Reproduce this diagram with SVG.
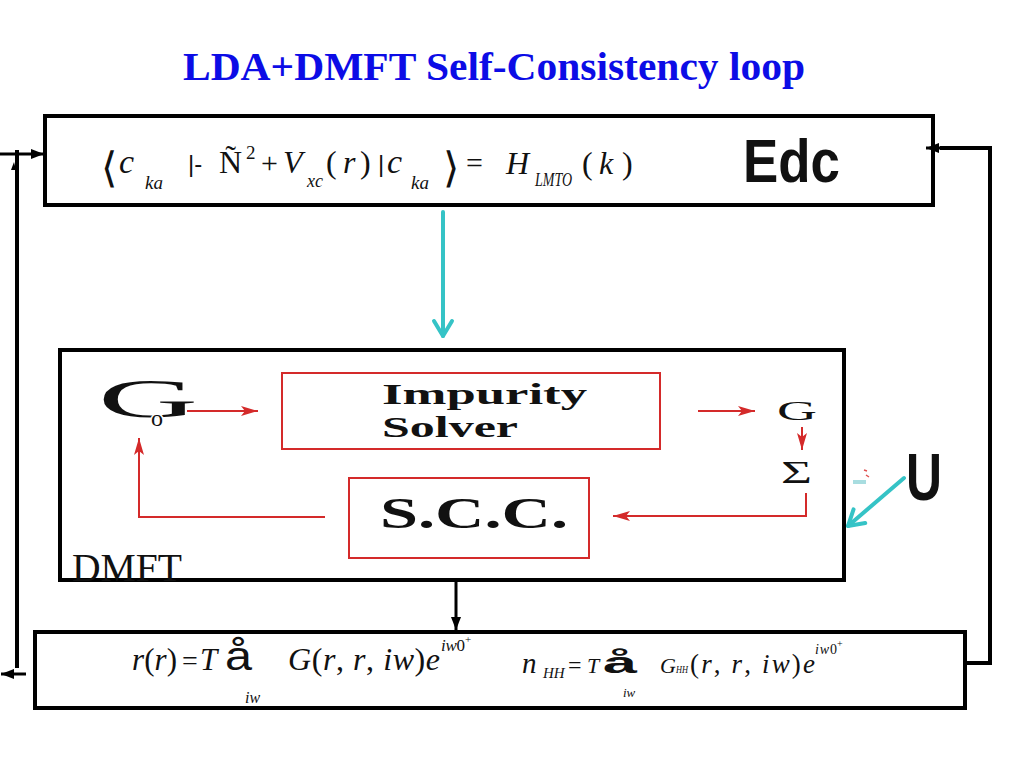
<svg xmlns="http://www.w3.org/2000/svg" width="1024" height="768" viewBox="0 0 1024 768">
<style>
.box{fill:none;stroke:#000;stroke-width:4}
.rbox{fill:none;stroke:#d42a2a;stroke-width:2}
.ser{font-family:"Liberation Serif","Times New Roman",serif;fill:#111}
.it{font-style:italic}
.sans{font-family:"Liberation Sans",Arial,sans-serif;fill:#111}
.red{fill:none;stroke:#d42a2a;stroke-width:2}
.blk{fill:none;stroke:#000;stroke-width:4}
.cyan{fill:none;stroke:#35c3c6;stroke-width:4;stroke-linecap:round}
</style>
<defs>
<marker id="ra" markerUnits="userSpaceOnUse" markerWidth="18" markerHeight="12" refX="17" refY="5" orient="auto">
<path d="M0,0 L17,5 L0,10 L4,5 z" fill="#d42a2a"/>
</marker>
<marker id="ba" markerUnits="userSpaceOnUse" markerWidth="14" markerHeight="12" refX="13" refY="5" orient="auto">
<path d="M0,0 L13,5 L0,10 z" fill="#000"/>
</marker>
<marker id="ca" markerUnits="userSpaceOnUse" markerWidth="22" markerHeight="24" refX="17" refY="10" orient="auto" overflow="visible">
<path d="M2,1 L17,10 L2,19" fill="none" stroke="#35c3c6" stroke-width="4" stroke-linecap="round" stroke-linejoin="round"/>
</marker>
</defs>
<rect width="1024" height="768" fill="#fff"/>

<text id="title" x="183" y="80" font-family="Liberation Serif,Times New Roman,serif" font-weight="bold" font-size="40" fill="#0c0ce6" textLength="622" lengthAdjust="spacingAndGlyphs">LDA+DMFT Self-Consistency loop</text>

<g id="lda-box">
<rect class="box" x="45" y="116" width="888" height="89"/>
<text class="ser" x="101" y="182" font-family="DejaVu Serif,serif" font-size="42">⟨</text>
<text class="ser it" x="119" y="173" font-size="34">c</text>
<text class="ser it" x="145" y="189" font-size="19">ka</text>
<text class="sans" x="188" y="172" font-size="24">|-</text>
<text class="ser" x="219" y="173" font-size="32">Ñ</text>
<text class="ser" x="246" y="159" font-size="19">2</text>
<text class="ser" x="261" y="173" font-size="30">+</text>
<text class="ser it" x="283" y="173" font-size="32">V</text>
<text class="ser it" x="307" y="187" font-size="18">xc</text>
<text class="ser" x="326" y="173" font-size="32">(<tspan class="it" x="343">r</tspan><tspan x="360">)</tspan></text>
<text class="sans" x="378" y="172" font-size="24">|</text>
<text class="ser it" x="387" y="173" font-size="34">c</text>
<text class="ser it" x="411" y="189" font-size="19">ka</text>
<text class="ser" x="443" y="182" font-family="DejaVu Serif,serif" font-size="42">⟩</text>
<text class="ser" x="466" y="173" font-size="30">=</text>
<text class="ser it" x="506" y="174" font-size="32">H</text>
<text class="ser it" x="535" y="186" font-size="18" textLength="37" lengthAdjust="spacingAndGlyphs">LMTO</text>
<text class="ser" x="582" y="174" font-size="32">(<tspan class="it" x="599">k</tspan><tspan x="622">)</tspan></text>
<text class="sans" x="743" y="182" font-size="62" font-weight="bold" textLength="97" lengthAdjust="spacingAndGlyphs">Edc</text>
</g>

<g id="dmft-box">
<rect class="box" x="60" y="350" width="784" height="230"/>
<text class="ser" x="72" y="581" font-size="39" textLength="110" lengthAdjust="spacingAndGlyphs">DMFT</text>
</g>

<g id="g0">
<text class="ser" x="98" y="417" font-size="54" textLength="100" lengthAdjust="spacingAndGlyphs">G</text>
<text class="ser" x="151" y="426" font-size="24" stroke="#fff" stroke-width="3" paint-order="stroke">o</text>
</g>

<g id="impurity-solver">
<rect class="rbox" x="282" y="373" width="378" height="76"/>
<text class="ser" x="382" y="404" font-size="30" font-weight="bold" textLength="205" lengthAdjust="spacingAndGlyphs">Impurity</text>
<text class="ser" x="382" y="437" font-size="30" font-weight="bold" textLength="136" lengthAdjust="spacingAndGlyphs">Solver</text>
</g>

<g id="scc">
<rect class="rbox" x="349" y="478" width="240" height="80"/>
<text class="ser" x="380" y="528" font-size="44" font-weight="bold" textLength="188" lengthAdjust="spacingAndGlyphs">S.C.C.</text>
</g>

<g id="g">
<text class="ser" x="777" y="420" font-size="28" textLength="40" lengthAdjust="spacingAndGlyphs">G</text>
</g>

<g id="sigma">
<text class="ser" x="781" y="483" font-size="32" textLength="31" lengthAdjust="spacingAndGlyphs">Σ</text>
</g>

<g id="u">
<text class="sans" x="906" y="500" font-size="66" font-weight="bold" textLength="36" lengthAdjust="spacingAndGlyphs">U</text>
</g>

<g id="density-box">
<rect class="box" x="35" y="632" width="930" height="76"/>
<text class="ser" x="132" y="670" font-size="31" textLength="45" lengthAdjust="spacing"><tspan class="it">r</tspan>(<tspan class="it">r</tspan>)</text>
<text class="ser" x="182" y="670" font-size="28">=</text>
<text class="ser it" x="200" y="670" font-size="31">T</text>
<text class="sans" x="225" y="670" font-size="40" textLength="27" lengthAdjust="spacingAndGlyphs">å</text>
<text class="ser it" x="245" y="703" font-size="16">iw</text>
<text class="ser" x="288" y="670" font-size="32" textLength="152" lengthAdjust="spacing"><tspan class="it">G</tspan>(<tspan class="it">r</tspan>, <tspan class="it">r</tspan>, <tspan class="it">iw</tspan>)<tspan class="it">e</tspan></text>
<text class="ser it" x="441" y="651" font-size="17" textLength="24" lengthAdjust="spacing">iw<tspan font-style="normal">0</tspan></text>
<text class="ser" x="465" y="643" font-size="11">+</text>

<text class="ser it" x="522" y="673" font-size="29">n</text>
<text class="ser it" x="543" y="678" font-size="15">HH</text>
<text class="ser" x="568" y="673" font-size="24">=</text>
<text class="ser it" x="587" y="673" font-size="22">T</text>
<text class="sans" x="603" y="673" font-size="30" font-weight="bold" textLength="34" lengthAdjust="spacingAndGlyphs">å</text>
<text class="ser it" x="623" y="697" font-size="13">iw</text>
<text class="ser it" x="660" y="673" font-size="22">G</text>
<text class="ser it" x="676" y="673" font-size="11" textLength="12" lengthAdjust="spacingAndGlyphs">HH</text>
<text class="ser" x="690" y="673" font-size="27" textLength="125" lengthAdjust="spacing">(<tspan class="it">r</tspan>, <tspan class="it">r</tspan>, <tspan class="it">iw</tspan>)<tspan class="it">e</tspan></text>
<text class="ser it" x="815" y="654" font-size="14" textLength="22" lengthAdjust="spacing">iw<tspan font-style="normal">0</tspan></text>
<text class="ser" x="837" y="647" font-size="10">+</text>
</g>

<g id="connectors">
<line class="cyan" x1="443" y1="212" x2="443" y2="336" marker-end="url(#ca)"/>
<line class="red" x1="187" y1="411" x2="258" y2="411" marker-end="url(#ra)"/>
<line class="red" x1="698" y1="411" x2="755" y2="411" marker-end="url(#ra)"/>
<line class="red" x1="802" y1="427" x2="802" y2="450" marker-end="url(#ra)"/>
<polyline class="red" points="806,493 806,516 613,516" marker-end="url(#ra)"/>
<polyline class="red" points="325,517 139,517 139,438" marker-end="url(#ra)"/>
<line class="cyan" x1="904" y1="478" x2="848" y2="526" marker-end="url(#ca)"/>
<line x1="853" y1="482" x2="866" y2="482" stroke="#a8dde0" stroke-width="4"/>
<path d="M864,470 L867,471 M866,475 L869,477" stroke="#e05050" stroke-width="1.5" fill="none"/>
<line x1="456" y1="582" x2="456" y2="630" stroke="#000" stroke-width="3" marker-end="url(#ba)"/>
<line x1="0" y1="154" x2="44" y2="154" stroke="#000" stroke-width="3" marker-end="url(#ba)"/>
<line class="blk" x1="17" y1="150" x2="17" y2="668"/>
<path d="M11,170 L14,162 L16,170 z" fill="#000"/>
<line x1="26" y1="674" x2="1" y2="674" stroke="#000" stroke-width="3" marker-end="url(#ba)"/>
<polyline class="blk" points="965,663 990,663 990,148 940,148"/>
<line x1="945" y1="148" x2="926" y2="148" stroke="#000" stroke-width="3" marker-end="url(#ba)"/>
</g>
</svg>
